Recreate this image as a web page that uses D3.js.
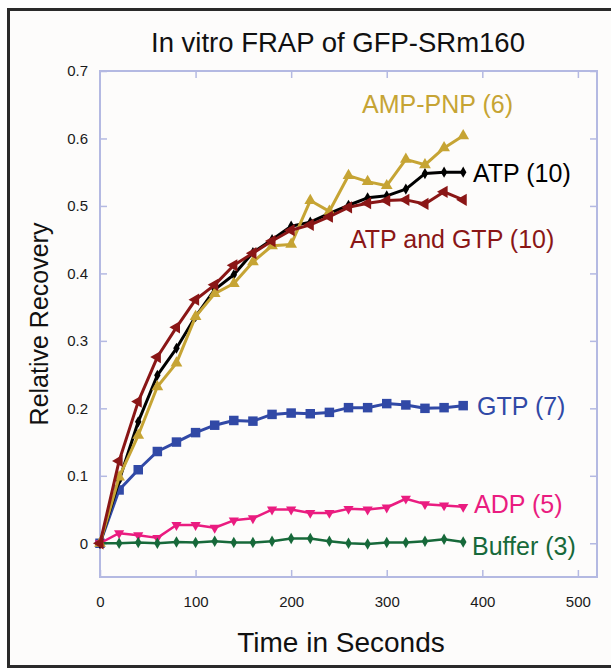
<!DOCTYPE html>
<html>
<head>
<meta charset="utf-8">
<script src="https://cdn.jsdelivr.net/npm/d3@7"></script>
<style>
  body { margin: 0; background: #fff; }
</style>
</head>
<body>
<svg width="611" height="669"></svg>
<script>
"use strict";

const fontFamily = '"Liberation Sans", Arial, Helvetica, sans-serif';

// time points (s)
const times = [0, 20, 40, 60, 80, 100, 120, 140, 160, 180, 200, 220, 240, 260, 280, 300, 320, 340, 360, 380];

const ampPnp = [0, 0.098, 0.160, 0.232, 0.267, 0.336, 0.370, 0.385, 0.417, 0.441, 0.443, 0.508, 0.492, 0.545, 0.536, 0.530, 0.569, 0.561, 0.586, 0.604];
const atp = [0, 0.093, 0.180, 0.249, 0.289, 0.336, 0.376, 0.398, 0.431, 0.450, 0.470, 0.476, 0.489, 0.501, 0.512, 0.515, 0.525, 0.548, 0.550, 0.550];
const atpGtp = [0, 0.122, 0.210, 0.276, 0.320, 0.361, 0.383, 0.412, 0.430, 0.448, 0.464, 0.472, 0.484, 0.498, 0.504, 0.508, 0.509, 0.503, 0.521, 0.509];
const gtp = [0, 0.079, 0.109, 0.136, 0.150, 0.164, 0.175, 0.182, 0.181, 0.191, 0.193, 0.192, 0.194, 0.201, 0.201, 0.207, 0.205, 0.200, 0.201, 0.204];
const adp = [0, 0.015, 0.012, 0.008, 0.027, 0.027, 0.023, 0.034, 0.037, 0.050, 0.050, 0.045, 0.045, 0.051, 0.050, 0.053, 0.066, 0.058, 0.056, 0.054];
const buffer = [0, 0, 0.001, 0, 0.002, 0.001, 0.003, 0.001, 0.001, 0.003, 0.007, 0.007, 0.003, 0, -0.001, 0.001, 0.001, 0.003, 0.006, 0.002];

const seriesNames = ["GTP (7)", "ADP (5)", "Buffer (3)", "ATP (10)", "AMP-PNP (6)", "ATP and GTP (10)"];
const seriesValues = [gtp, adp, buffer, atp, ampPnp, atpGtp];

const xTicks = [0, 100, 200, 300, 400, 500];
const yTicks = [0, 0.1, 0.2, 0.3, 0.4, 0.5, 0.6, 0.7];

const title = "In vitro FRAP of GFP-SRm160";
const xAxisLabel = "Time in Seconds";
const yAxisLabel = "Relative Recovery";

// look of each series
const styles = {
  "GTP (7)": { color: "#3149a6", symbol: d3.symbolSquare, size: 90, rotate: 0, width: 3, lx: 477, ly: 415 },
  "ADP (5)": { color: "#ea1c80", symbol: d3.symbolTriangle, size: 45, rotate: 180, width: 2.5, lx: 474, ly: 513 },
  "Buffer (3)": { color: "#17693a", symbol: d3.symbolDiamond, size: 38, rotate: 0, width: 2.5, lx: 472, ly: 555 },
  "ATP (10)": { color: "#000000", symbol: d3.symbolDiamond, size: 36, rotate: 0, width: 3, lx: 473, ly: 182 },
  "AMP-PNP (6)": { color: "#c6a434", symbol: d3.symbolTriangle, size: 60, rotate: 0, width: 3, lx: 362, ly: 113 },
  "ATP and GTP (10)": { color: "#8a1616", symbol: d3.symbolTriangle, size: 65, rotate: -90, width: 3, lx: 350, ly: 248 }
};

const svg = d3.select("svg")
  .attr("font-family", fontFamily);
const width = +svg.attr("width");
const height = +svg.attr("height");

svg.append("rect")
  .attr("width", width)
  .attr("height", height)
  .attr("fill", "#fff");

// outer picture frame, open on the right where the picture was cropped
svg.append("rect")
  .attr("x", 10)
  .attr("y", 11)
  .attr("width", width - 10)
  .attr("height", 654)
  .attr("fill", "#fdfcfb");

svg.append("path")
  .attr("d", `M${width},9.5H8.5V666.5H${width}`)
  .attr("fill", "none")
  .attr("stroke", "#2a2a2a")
  .attr("stroke-width", 3);

const margin = { top: 71, right: 14, bottom: 92, left: 100 };
const innerWidth = width - margin.left - margin.right;
const innerHeight = height - margin.top - margin.bottom;

const xScale = d3.scaleLinear().domain([0, 520]).range([0, innerWidth]);
const yScale = d3.scaleLinear().domain([-0.05, 0.7]).range([innerHeight, 0]);

const g = svg.append("g")
  .attr("transform", `translate(${margin.left},${margin.top})`);

const boxColor = "#b4b9e2";
const tickLen = 7;
const yFormat = d => (d === 0 ? "0" : d3.format(".1f")(d));

const styleAxis = sel => {
  sel.attr("font-size", 15).attr("font-family", fontFamily);
  sel.select(".domain").remove();
  sel.selectAll(".tick line").attr("stroke", boxColor).attr("stroke-width", 1.5);
  sel.selectAll(".tick text").attr("fill", "#1a1a1a");
};

// ticks only, no labels, on the top and right edges
const bareAxis = sel => {
  sel.call(styleAxis);
  sel.selectAll(".tick text").remove();
};

g.append("g")
  .attr("transform", `translate(0,${innerHeight})`)
  .call(d3.axisBottom(xScale).tickValues(xTicks).tickSize(-tickLen).tickPadding(19))
  .call(styleAxis);

g.append("g")
  .call(d3.axisTop(xScale).tickValues(xTicks.filter(d => d > 0)).tickSize(-tickLen))
  .call(bareAxis);

g.append("g")
  .call(d3.axisLeft(yScale).tickValues(yTicks).tickSize(-tickLen).tickPadding(12).tickFormat(yFormat))
  .call(styleAxis);

g.append("g")
  .attr("transform", `translate(${innerWidth},0)`)
  .call(d3.axisRight(yScale).tickValues(yTicks).tickSize(-tickLen))
  .call(bareAxis);

g.append("rect")
  .attr("width", innerWidth)
  .attr("height", innerHeight)
  .attr("fill", "none")
  .attr("stroke", boxColor)
  .attr("stroke-width", 2);

const line = d3.line()
  .x(d => xScale(d[0]))
  .y(d => yScale(d[1]));

seriesNames.forEach((name, i) => {
  const st = styles[name];
  const pts = times.map((t, j) => [t, seriesValues[i][j]]);

  g.append("path")
    .datum(pts)
    .attr("fill", "none")
    .attr("stroke", st.color)
    .attr("stroke-width", st.width)
    .attr("stroke-linejoin", "round")
    .attr("d", line);

  g.selectAll(null)
    .data(pts)
    .enter()
    .append("path")
    .attr("transform", d => `translate(${xScale(d[0])},${yScale(d[1])}) rotate(${st.rotate})`)
    .attr("d", d3.symbol().type(st.symbol).size(st.size))
    .attr("fill", st.color);

  svg.append("text")
    .attr("x", st.lx)
    .attr("y", st.ly)
    .attr("fill", st.color)
    .attr("font-size", 25)
    .text(name);
});

svg.append("text")
  .attr("x", 338)
  .attr("y", 52)
  .attr("text-anchor", "middle")
  .attr("fill", "#111")
  .attr("font-size", 27.5)
  .text(title);

svg.append("text")
  .attr("x", 341)
  .attr("y", 652)
  .attr("text-anchor", "middle")
  .attr("fill", "#111")
  .attr("font-size", 28)
  .text(xAxisLabel);

svg.append("text")
  .attr("transform", "translate(48,324) rotate(-90)")
  .attr("text-anchor", "middle")
  .attr("fill", "#111")
  .attr("font-size", 25)
  .text(yAxisLabel);
</script>
</body>
</html>
